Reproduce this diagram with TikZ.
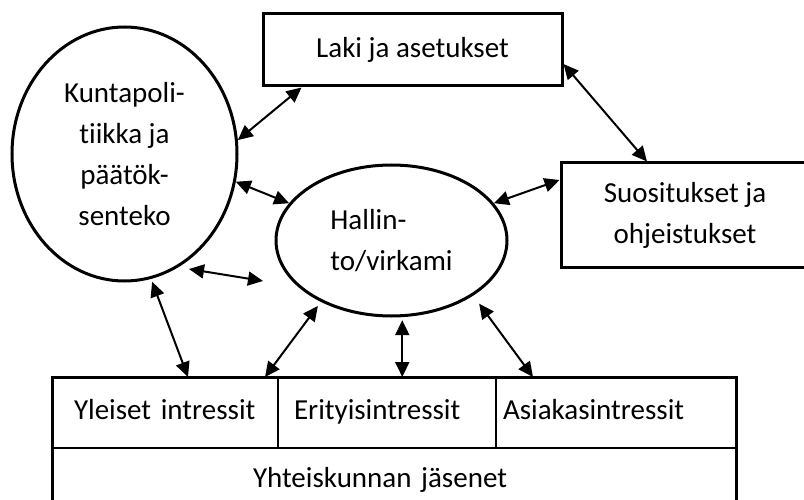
\documentclass[tikz,border=0pt]{standalone}
\usepackage{fontspec}
\setmainfont{Carlito}[Ligatures=NoCommon]
\usetikzlibrary{shapes.geometric,arrows.meta}

\begin{document}
\begin{tikzpicture}[x=1pt,y=-1pt,
		every node/.style={font=\fontsize{29}{41}\selectfont},
		soikio/.style={draw,ellipse,line width=3pt,inner sep=0pt},
		laatikko/.style={draw,rectangle,line width=3pt,align=center,inner sep=0pt},
		solu/.style={draw,rectangle,line width=2pt,outer sep=0pt,inner ysep=0pt,align=left,text height=20pt,text depth=6pt},
		nuoli/.style={<->,line width=2pt}]
		\tikzset{> = {Triangle[length=15pt,width=14pt]}}
		\useasboundingbox (0,0) rectangle (804,500);
		\clip (0,0) rectangle (804,500);
		\node[soikio,minimum width=225pt,minimum height=254pt,align=center] (K) at (124.5,154){Kuntapoli-\\tiikka ja\\päätök-\\senteko};
		\node[soikio,minimum width=231pt,minimum height=151pt,align=left] (H) at (391.5,240.5){Hallin-\\to/virkami};
		\node[laatikko,minimum width=299pt,minimum height=72pt] (L) at (412.5,50){Laki ja asetukset};
		\node[laatikko,minimum width=248pt,minimum height=104pt] (S) at (685,215){Suositukset ja\\ohjeistukset};
		\node[solu,minimum height=71pt,inner xsep=22pt,text width=182pt] (Y) at (165,412.5){Yleiset intressit};
		\node[solu,minimum height=71pt,inner xsep=16pt,text width=186pt] (E) at (387,412.5){Erityisintressit};
		\node[solu,minimum height=71pt,inner xsep=7pt,text width=226pt] (A) at (616,412.5){Asiakasintressit};
		\node[solu,minimum height=64pt,inner xsep=201pt,text width=282pt] (J) at (394,480){Yhteiskunnan jäsenet};
		\draw[line width=3pt] (Y.north west) rectangle (J.south east);
		\coordinate (VA) at (189,269);
		\coordinate (VB) at (263,281);
		\draw[nuoli] (K.7) -- ([xshift=40pt]L.south west);
		\draw[nuoli] ([yshift=-14pt]L.east) -- ([xshift=-38pt]S.north);
		\draw[nuoli] (K.-14) -- (H.160);
		\draw[nuoli] (H.20) -- ([yshift=35pt]S.west);
		\draw[nuoli] (VA) -- (VB);
		\draw[nuoli,shorten <=3pt] (K.-78) -- ([xshift=136pt]Y.north west);
		\draw[nuoli,shorten <=5pt] (H.221) -- ([xshift=-13pt]Y.north east);
		\draw[nuoli,shorten <=3pt] (H.-82) -- (H.-82 |- E.north);
		\draw[nuoli,shorten <=10pt] (H.-34) -- ([xshift=37pt]A.north west);
	\end{tikzpicture}
\end{document}
